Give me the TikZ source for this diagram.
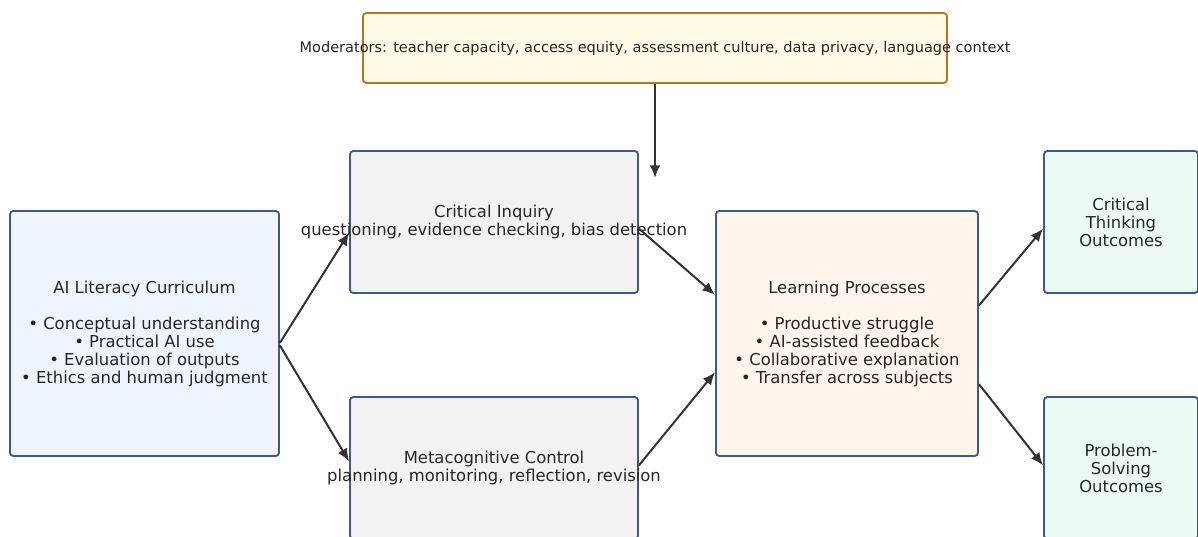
\documentclass[tikz,border=0pt]{standalone}
\usepackage{fontspec}
\setmainfont{DejaVu Sans}
\usepackage{xcolor}
\usepackage{tikz}
\usetikzlibrary{arrows.meta,positioning,calc}

\definecolor{edgeblue}{HTML}{3C5A8E}
\definecolor{edgeorange}{HTML}{B8741F}
\definecolor{arrowgray}{HTML}{333333}
\definecolor{fillblue}{HTML}{EEF5FF}
\definecolor{fillgray}{HTML}{F2F2F2}
\definecolor{fillpeach}{HTML}{FFF5EB}
\definecolor{fillmint}{HTML}{EBFBF3}
\definecolor{fillyellow}{HTML}{FFFBE6}

\begin{document}
\begin{tikzpicture}[
    x=0.75pt, y=-0.75pt,
    block/.style={rectangle, draw=edgeblue, line width=1.4pt, rounded corners=2.5pt, align=center, inner sep=0pt,
        font=\fontsize{12.3}{13.5}\selectfont, text=black!85},
    boxtext/.style={align=center, inner sep=0pt, font=\fontsize{12.3}{13.5}\selectfont, text=black!85},
    modbox/.style={block, draw=edgeorange, fill=fillyellow},
    arrow/.style={draw, line width=1.5pt, -{Latex[length=9.5pt,width=8pt]}, color=arrowgray}
]
    \useasboundingbox (0,0) rectangle (1198,536);
    \clip (0,0) rectangle (1198,536);

    % Nodes (long labels are set as center labels so the boxes keep their size)
    \node[modbox, minimum width=438pt, minimum height=52.5pt,
        label={[boxtext, font=\fontsize{10.9}{13}\selectfont]center:Moderators: teacher capacity, access equity, assessment culture, data privacy, language context}]
        (mod) at (655,48) {};
    \coordinate (modtip) at (655,178);

    \node[block, fill=fillblue, minimum width=201.75pt, minimum height=183.75pt] (curr) at (144.5,333.5)
        {AI Literacy Curriculum\\[13.5pt]
         • Conceptual understanding\\ • Practical AI use\\ • Evaluation of outputs\\ • Ethics and human judgment};

    \node[block, fill=fillgray, minimum width=216pt, minimum height=106.5pt,
        label={[boxtext]center:{Critical Inquiry\\questioning, evidence checking, bias detection}}]
        (inquiry) at (494,222) {};
    \node[block, fill=fillgray, minimum width=216pt, minimum height=106.5pt,
        label={[boxtext]center:{Metacognitive Control\\planning, monitoring, reflection, revision}}]
        (meta) at (494,468) {};

    \node[block, fill=fillpeach, minimum width=196.5pt, minimum height=183.75pt] (learn) at (847,333.5)
        {Learning Processes\\[13.5pt]
         • Productive struggle\\ • AI-assisted feedback\\ • Collaborative explanation\\ • Transfer across subjects};

    \node[block, fill=fillmint, minimum width=115.5pt, minimum height=106.5pt] (think) at (1121,222)
        {Critical\\Thinking\\Outcomes};
    \node[block, fill=fillmint, minimum width=115.5pt, minimum height=106.5pt] (solve) at (1121,468)
        {Problem-\\Solving\\Outcomes};

    % Arrows
    \path [arrow] (mod.south) -- (modtip);
    \path [arrow] ([yshift=-7pt]curr.east) -- ([yshift=-8pt]inquiry.west);
    \path [arrow] ([yshift=-9pt]curr.east) -- ([yshift=5pt]meta.west);
    \path [arrow] ([yshift=-5pt]inquiry.east) -- ([yshift=29pt]learn.west);
    \path [arrow] ([yshift=2pt]meta.east) -- ([yshift=-29pt]learn.west);
    \path [arrow] ([yshift=21pt]learn.east) -- ([yshift=-5pt]think.west);
    \path [arrow] ([yshift=-38pt]learn.east) -- ([yshift=2pt]solve.west);
\end{tikzpicture}
\end{document}
